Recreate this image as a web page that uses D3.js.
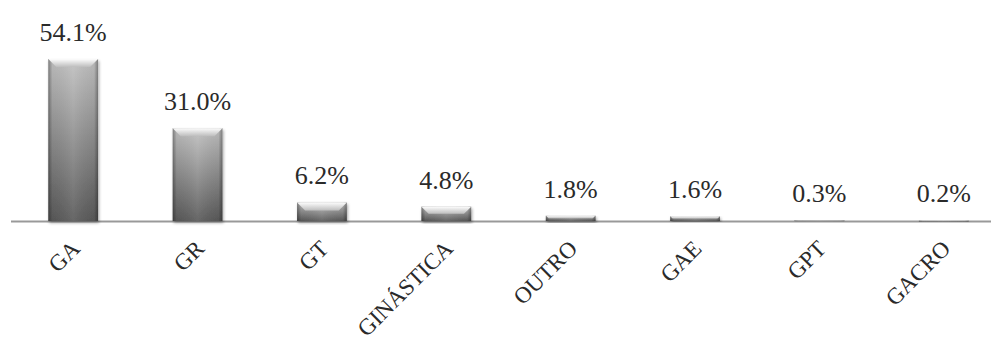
<!DOCTYPE html>
<html>
<head>
<meta charset="utf-8">
<script src="https://cdn.jsdelivr.net/npm/d3@7"></script>
<style>
  html, body { margin: 0; padding: 0; background: #fff; }
  svg { display: block; }
  text { font-family: "Liberation Serif", "DejaVu Serif", serif; fill: #2a2a2a; }
</style>
</head>
<body>
<script>
// chart data
const categories = ["GA", "GR", "GT", "GINÁSTICA", "OUTRO", "GAE", "GPT", "GACRO"];
const values = [54.1, 31.0, 6.2, 4.8, 1.8, 1.6, 0.3, 0.2];
const valueLabels = ["54.1%", "31.0%", "6.2%", "4.8%", "1.8%", "1.6%", "0.3%", "0.2%"];

const width = 991, height = 343;
const baseY = 221;

const svg = d3.select("body").append("svg")
    .attr("width", width)
    .attr("height", height);

const defs = svg.append("defs");

// vertical body gradient
const gBody = defs.append("linearGradient").attr("id", "body")
    .attr("x1", 0).attr("y1", 0).attr("x2", 0).attr("y2", 1);
gBody.append("stop").attr("offset", "0%").attr("stop-color", "#c2c2c2");
gBody.append("stop").attr("offset", "100%").attr("stop-color", "#5a5a5a");

// darker edges left/right
const gSide = defs.append("linearGradient").attr("id", "side")
    .attr("x1", 0).attr("y1", 0).attr("x2", 1).attr("y2", 0);
gSide.append("stop").attr("offset", "0%").attr("stop-color", "#000").attr("stop-opacity", 0.35);
gSide.append("stop").attr("offset", "8%").attr("stop-color", "#000").attr("stop-opacity", 0.05);
gSide.append("stop").attr("offset", "50%").attr("stop-color", "#fff").attr("stop-opacity", 0.08);
gSide.append("stop").attr("offset", "92%").attr("stop-color", "#000").attr("stop-opacity", 0.05);
gSide.append("stop").attr("offset", "100%").attr("stop-color", "#000").attr("stop-opacity", 0.35);

// top bevel
const gTop = defs.append("linearGradient").attr("id", "top")
    .attr("x1", 0).attr("y1", 0).attr("x2", 0).attr("y2", 1);
gTop.append("stop").attr("offset", "0%").attr("stop-color", "#fdfdfd");
gTop.append("stop").attr("offset", "100%").attr("stop-color", "#bdbdbd");

const shadow = defs.append("filter").attr("id", "shadow")
    .attr("x", "-20%").attr("y", "-10%").attr("width", "140%").attr("height", "130%");
shadow.append("feGaussianBlur").attr("in", "SourceAlpha").attr("stdDeviation", 1.5);
shadow.append("feOffset").attr("dx", 1).attr("dy", 1.5).attr("result", "b");
shadow.append("feComponentTransfer").append("feFuncA").attr("type", "linear").attr("slope", 0.35);
const merge = shadow.append("feMerge");
merge.append("feMergeNode");
merge.append("feMergeNode").attr("in", "SourceGraphic");

const x = d3.scaleBand()
    .domain(categories)
    .range([11, 1006])
    .paddingInner(0.6)
    .paddingOuter(0.3);

const y = d3.scaleLinear()
    .domain([0, 54.1])
    .range([baseY, 59]);

const data = categories.map((c, i) => ({ cat: c, v: values[i], label: valueLabels[i] }));

// axis line
svg.append("line")
    .attr("x1", 11).attr("x2", width)
    .attr("y1", baseY + 0.5).attr("y2", baseY + 0.5)
    .attr("stroke", "#999")
    .attr("stroke-width", 2);

const bars = svg.append("g").selectAll("g")
    .data(data)
    .enter().append("g")
    .attr("filter", "url(#shadow)");

bars.append("rect")
    .attr("x", d => x(d.cat))
    .attr("y", d => y(d.v))
    .attr("width", x.bandwidth())
    .attr("height", d => Math.max(1, baseY - y(d.v)))
    .attr("fill", "url(#body)");

bars.append("rect")
    .attr("x", d => x(d.cat))
    .attr("y", d => y(d.v))
    .attr("width", x.bandwidth())
    .attr("height", d => Math.max(1, baseY - y(d.v)))
    .attr("fill", "url(#side)");

// bevel on top of each bar
bars.append("path")
    .attr("d", d => {
        const x0 = x(d.cat), x1 = x0 + x.bandwidth();
        const t = y(d.v);
        const h = baseY - t;
        const b = Math.min(8, h / 2);
        const s = Math.min(8, h / 2);
        return `M${x0},${t}L${x1},${t}L${x1 - s},${t + b}L${x0 + s},${t + b}Z`;
    })
    .attr("fill", "url(#top)");

// value labels
svg.append("g").selectAll("text")
    .data(data)
    .enter().append("text")
    .attr("x", d => x(d.cat) + x.bandwidth() / 2)
    .attr("y", d => y(d.v) - 18)
    .attr("text-anchor", "middle")
    .style("font-size", "26px")
    .text(d => d.label);

// category labels, rotated
svg.append("g").selectAll("text")
    .data(categories)
    .enter().append("text")
    .attr("transform", d => `translate(${x(d) + x.bandwidth() / 2 + 8},${baseY + 29}) rotate(-45)`)
    .attr("text-anchor", "end")
    .style("font-size", "23px")
    .text(d => d);
</script>
</body>
</html>
